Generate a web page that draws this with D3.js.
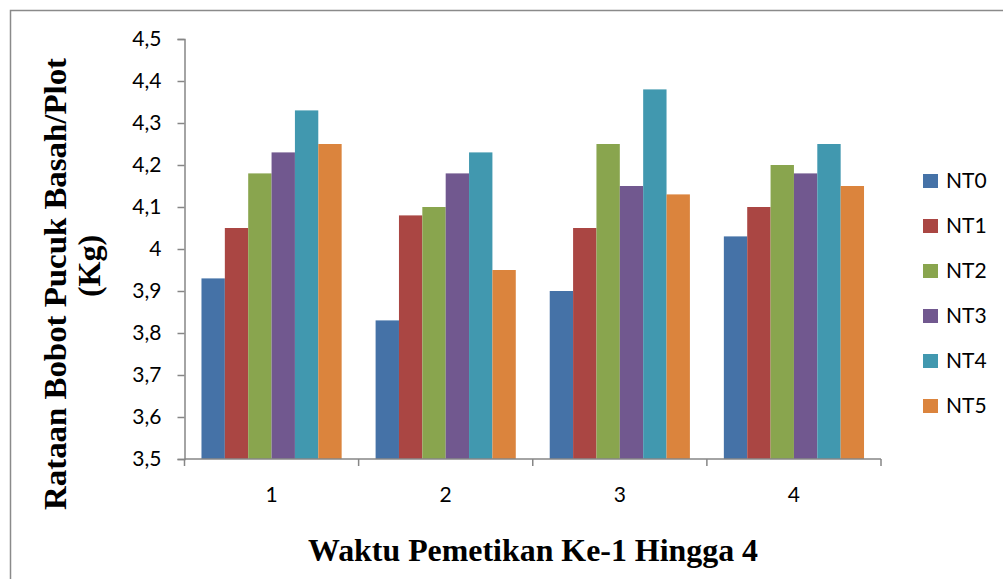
<!DOCTYPE html>
<html><head><meta charset="utf-8">
<script src="https://cdn.jsdelivr.net/npm/d3@7/dist/d3.min.js"></script>
<style>body{margin:0;background:#fff}svg{display:block}</style>
</head><body>
<script>
const categories = ["1","2","3","4"];
const seriesNames = ["NT0","NT1","NT2","NT3","NT4","NT5"];
const NT0 = [3.93, 3.83, 3.90, 4.03];
const NT1 = [4.05, 4.08, 4.05, 4.10];
const NT2 = [4.18, 4.10, 4.25, 4.20];
const NT3 = [4.23, 4.18, 4.15, 4.18];
const NT4 = [4.33, 4.23, 4.38, 4.25];
const NT5 = [4.25, 3.95, 4.13, 4.15];
const colors = ["#4572A7","#AA4643","#89A54E","#71588F","#4198AF","#DB843D"];
const yTicks = [3.5,3.6,3.7,3.8,3.9,4.0,4.1,4.2,4.3,4.4,4.5];
const yTitle1 = "Rataan Bobot Pucuk Basah/Plot";
const yTitle2 = "(Kg)";
const xTitle = "Waktu Pemetikan Ke-1 Hingga 4";

const values = [NT0,NT1,NT2,NT3,NT4,NT5];
const W = 1003, H = 579;
const svg = d3.select("body").append("svg").attr("width",W).attr("height",H);

// frame
svg.append("path").attr("d",`M10.5,${H+5}V10.5H${W+5}`).attr("fill","none").attr("stroke","#8a8a8a").attr("stroke-width",1.5);

const pLeft = 184.5, pRight = 881, pTop = 39, pBottom = 459;
const x0 = d3.scaleBand().domain(categories).range([pLeft,pRight]).paddingInner(0.195).paddingOuter(0.0975);
const x1 = d3.scaleBand().domain(seriesNames).range([0,x0.bandwidth()]);
const y = d3.scaleLinear().domain([3.5,4.5]).range([pBottom,pTop]);

const font = "Lato, 'Open Sans', sans-serif";

// bars
categories.forEach((c,ci)=>{
  seriesNames.forEach((s,si)=>{
    svg.append("rect")
      .attr("x", x0(c)+x1(s))
      .attr("y", y(values[si][ci]))
      .attr("width", x1.bandwidth())
      .attr("height", y(3.5)-y(values[si][ci]))
      .attr("fill", colors[si]);
  });
});

// y axis
const ya = svg.append("g").attr("transform",`translate(${pLeft},0)`)
  .call(d3.axisLeft(y).tickValues(yTicks).tickSize(7).tickPadding(16)
    .tickFormat(d=>d3.format(".1f")(d).replace(".",",").replace(/^4,0$/,"4")));
ya.select(".domain").attr("stroke","#868686").attr("stroke-width",1.5);
ya.selectAll(".tick line").attr("stroke","#868686").attr("stroke-width",1.5);
ya.selectAll(".tick text").attr("font-family",font).attr("font-size",21).attr("fill","#000");

// x axis
const xa = svg.append("g").attr("transform",`translate(0,${pBottom})`);
xa.append("line").attr("x1",pLeft).attr("x2",pRight).attr("y1",0).attr("y2",0).attr("stroke","#868686").attr("stroke-width",1.5);
const bounds = categories.map(c=>x0(c)-x0.step()*x0.paddingInner()/2).concat([pRight]);
bounds.forEach(b=>{
  xa.append("line").attr("x1",b).attr("x2",b).attr("y1",0).attr("y2",7).attr("stroke","#868686").attr("stroke-width",1.5);
});
categories.forEach(c=>{
  xa.append("text").attr("x",x0(c)+x0.bandwidth()/2).attr("y",43).attr("text-anchor","middle")
    .attr("font-family",font).attr("font-size",21).attr("fill","#000").text(c);
});

// titles
svg.append("text").attr("transform","translate(66,284) rotate(-90)").attr("text-anchor","middle")
  .attr("font-family","'Liberation Serif','Times New Roman',serif").attr("font-weight","bold").attr("font-size",32)
  .attr("textLength",452).attr("lengthAdjust","spacingAndGlyphs").text(yTitle1);
svg.append("text").attr("transform","translate(100,266) rotate(-90)").attr("text-anchor","middle")
  .attr("font-family","'Liberation Serif','Times New Roman',serif").attr("font-weight","bold").attr("font-size",32)
  .text(yTitle2);
svg.append("text").attr("x",533).attr("y",561).attr("text-anchor","middle")
  .attr("font-family","'Liberation Serif','Times New Roman',serif").attr("font-weight","bold").attr("font-size",31)
  .attr("textLength",450).attr("lengthAdjust","spacingAndGlyphs").text(xTitle);

// legend
const lg = svg.append("g");
seriesNames.forEach((s,i)=>{
  const cy = 181 + i*45;
  lg.append("rect").attr("x",923).attr("y",cy-7).attr("width",15).attr("height",14).attr("fill",colors[i]);
  lg.append("text").attr("x",946).attr("y",cy+7).attr("font-family",font).attr("font-size",21).attr("fill","#000").text(s);
});
</script>
</body></html>
